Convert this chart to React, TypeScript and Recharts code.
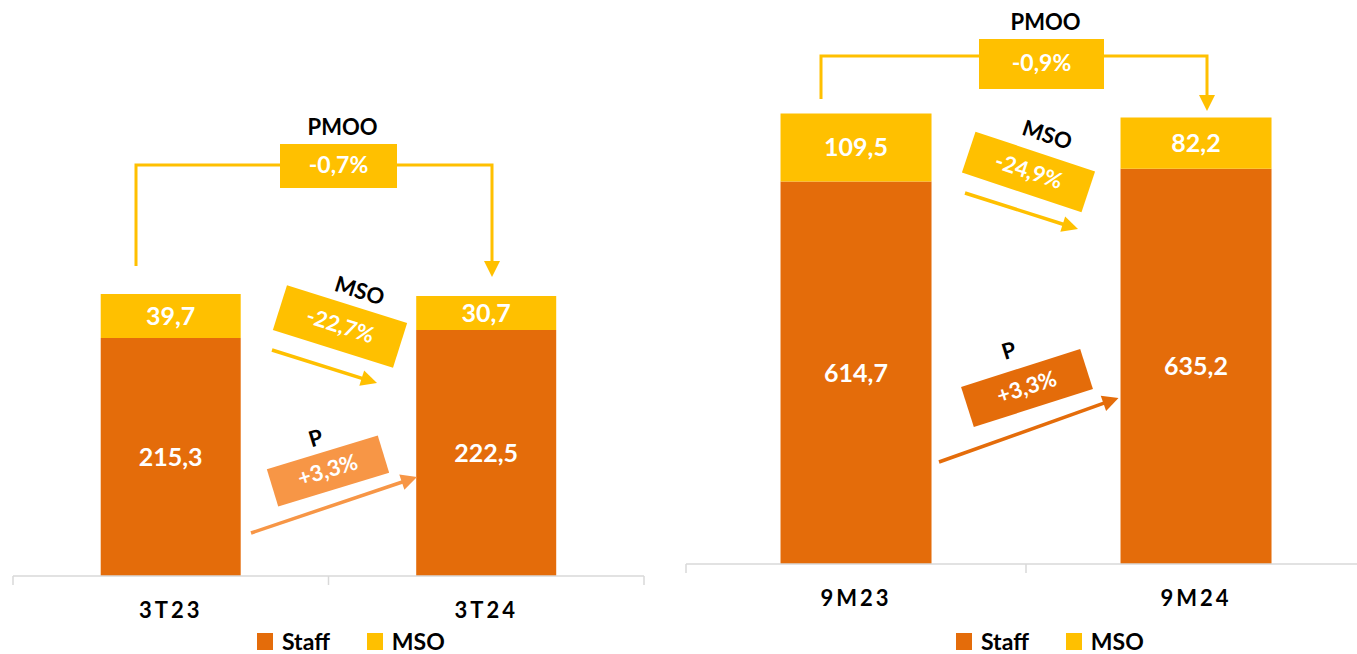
import { BarChart, Bar, XAxis, YAxis, LabelList, Legend } from "recharts"

const FONT = "Lato, 'Open Sans', sans-serif"
const STAFF_COLOR = "#E46C0A"
const MSO_COLOR = "#FFC000"
const P_LIGHT = "#F79646"
const AXIS_GREY = "#D9D9D9"

// quarter (3T) data
const quarterLabels = ["3T23", "3T24"]
const quarterStaff = [215.3, 222.5]
const quarterMso = [39.7, 30.7]
const quarterChanges = { pmoo: "-0,7%", mso: "-22,7%", p: "+3,3%" }

// year to date (9M) data
const ytdLabels = ["9M23", "9M24"]
const ytdStaff = [614.7, 635.2]
const ytdMso = [109.5, 82.2]
const ytdChanges = { pmoo: "-0,9%", mso: "-24,9%", p: "+3,3%" }

const legendItems = [
  { name: "Staff", color: STAFF_COLOR },
  { name: "MSO", color: MSO_COLOR },
]

const fmt = (v: any) => Number(v).toFixed(1).replace(".", ",")

interface BoxAnno {
  cx: number
  cy: number
  w: number
  h: number
  angle: number
  fill: string
  title: string
  tx: number
  ty: number
  value: string
}

interface Layout {
  left: number
  width: number
  margin: { top: number; right: number; left: number; bottom: number }
  xAxisHeight: number
  yMax: number
  legendLeft: number
  axisY: number
  ticksX: number[]
  pmoo: { leftX: number; rightX: number; lineY: number; leftBottom: number; tip: number; box: { x: number; y: number; w: number; h: number }; titleY: number }
  msoBox: BoxAnno
  msoArrow: [number, number, number, number]
  pBox: BoxAnno
  pArrow: [number, number, number, number]
  pArrowColor: string
}

function Arrow({ x1, y1, x2, y2, color }: { x1: number; y1: number; x2: number; y2: number; color: string }) {
  const dx = x2 - x1
  const dy = y2 - y1
  const len = Math.sqrt(dx * dx + dy * dy)
  const ux = dx / len
  const uy = dy / len
  const hl = 16
  const hw = 8
  const bx = x2 - ux * hl
  const by = y2 - uy * hl
  const pts = `${x2},${y2} ${bx - uy * hw},${by + ux * hw} ${bx + uy * hw},${by - ux * hw}`
  return (
    <g>
      <line x1={x1} y1={y1} x2={bx + ux * 2} y2={by + uy * 2} stroke={color} strokeWidth={3.5} />
      <polygon points={pts} fill={color} />
    </g>
  )
}

function RotBox({ b }: { b: BoxAnno }) {
  return (
    <g transform={`translate(${b.cx},${b.cy}) rotate(${b.angle})`}>
      <rect x={-b.w / 2} y={-b.h / 2} width={b.w} height={b.h} fill={b.fill} />
      <text x={0} y={1} textAnchor="middle" dominantBaseline="middle" fill="#fff" fontSize={22} fontWeight={700} fontFamily={FONT}>
        {b.value}
      </text>
      <text x={b.tx} y={b.ty} textAnchor="middle" dominantBaseline="middle" fill="#000" fontSize={22} fontWeight={700} fontFamily={FONT}>
        {b.title}
      </text>
    </g>
  )
}

function Overlay({ l, pmooText }: { l: Layout; pmooText: string }) {
  const p = l.pmoo
  const c = MSO_COLOR
  return (
    <svg width={l.width} height={654} style={{ position: "absolute", left: 0, top: 0, pointerEvents: "none" }}>
      {l.ticksX.map((x) => (
        <line key={x} x1={x} y1={l.axisY} x2={x} y2={l.axisY + 9} stroke={AXIS_GREY} strokeWidth={1.5} />
      ))}
      <polyline
        points={`${p.leftX},${p.leftBottom} ${p.leftX},${p.lineY} ${p.rightX},${p.lineY} ${p.rightX},${p.tip - 14}`}
        fill="none"
        stroke={c}
        strokeWidth={3}
      />
      <polygon points={`${p.rightX},${p.tip} ${p.rightX - 8},${p.tip - 16} ${p.rightX + 8},${p.tip - 16}`} fill={c} />
      <rect x={p.box.x} y={p.box.y} width={p.box.w} height={p.box.h} fill={c} />
      <text x={p.box.x + p.box.w / 2} y={p.box.y + p.box.h / 2 + 1} textAnchor="middle" dominantBaseline="middle" fill="#fff" fontSize={23} fontWeight={700} fontFamily={FONT}>
        {pmooText}
      </text>
      <text x={p.box.x + p.box.w / 2 + 4} y={p.titleY} textAnchor="middle" dominantBaseline="middle" fill="#000" fontSize={22} fontWeight={700} fontFamily={FONT}>
        PMOO
      </text>
      <RotBox b={l.msoBox} />
      <Arrow x1={l.msoArrow[0]} y1={l.msoArrow[1]} x2={l.msoArrow[2]} y2={l.msoArrow[3]} color={MSO_COLOR} />
      <RotBox b={l.pBox} />
      <Arrow x1={l.pArrow[0]} y1={l.pArrow[1]} x2={l.pArrow[2]} y2={l.pArrow[3]} color={l.pArrowColor} />
    </svg>
  )
}

function LegendContent() {
  return (
    <div style={{ display: "flex", alignItems: "center", height: 42, paddingTop: 16, boxSizing: "border-box", fontFamily: FONT, fontWeight: 700, fontSize: 23, color: "#000" }}>
      {legendItems.map((it, i) => (
        <div key={it.name} style={{ display: "flex", alignItems: "center", marginRight: i === 0 ? 37 : 0 }}>
          <span style={{ display: "inline-block", width: 16, height: 17, background: it.color, marginRight: 9 }} />
          <span style={{ lineHeight: "22px" }}>{it.name}</span>
        </div>
      ))}
    </div>
  )
}

function CategoryTick(props: any) {
  const { x, y, payload } = props
  return (
    <text x={x} y={y + 36} textAnchor="middle" dominantBaseline="middle" fill="#000" fontSize={22} fontWeight={700} fontFamily={FONT} letterSpacing={3}>
      {payload.value}
    </text>
  )
}

function StackPanel({ labels, staff, mso, changes, l }: { labels: string[]; staff: number[]; mso: number[]; changes: { pmoo: string; mso: string; p: string }; l: Layout }) {
  const data = labels.map((name, i) => ({ name, staff: staff[i], mso: mso[i] }))
  return (
    <div style={{ position: "absolute", left: l.left, top: 0, width: l.width, height: 654 }}>
      <BarChart width={l.width} height={654} data={data} margin={l.margin} barCategoryGap="27.8%">
        <YAxis hide domain={[0, l.yMax]} />
        <XAxis
          dataKey="name"
          height={l.xAxisHeight}
          axisLine={{ stroke: AXIS_GREY, strokeWidth: 1.5 }}
          tickLine={false}
          tickSize={0}
          tickMargin={0}
          tick={<CategoryTick />}
          interval={0}
        />
        <Legend verticalAlign="bottom" content={<LegendContent />} wrapperStyle={{ left: l.legendLeft, height: 42, width: "auto" }} />
        <Bar dataKey="staff" name="Staff" stackId="a" fill={STAFF_COLOR} isAnimationActive={false}>
          <LabelList dataKey="staff" position="center" formatter={fmt} fill="#fff" fontSize={25} fontWeight={700} fontFamily={FONT} />
        </Bar>
        <Bar dataKey="mso" name="MSO" stackId="a" fill={MSO_COLOR} isAnimationActive={false}>
          <LabelList dataKey="mso" position="center" formatter={fmt} fill="#fff" fontSize={25} fontWeight={700} fontFamily={FONT} />
        </Bar>
      </BarChart>
      <Overlay l={l} pmooText={changes.pmoo} />
    </div>
  )
}

const quarterLayout: Layout = {
  left: 0,
  width: 680,
  margin: { top: 23, right: 36, left: 13, bottom: 0 },
  xAxisHeight: 36,
  yMax: 500,
  legendLeft: 257,
  axisY: 576,
  ticksX: [13, 328.5, 644],
  pmoo: { leftX: 136, rightX: 492, lineY: 165, leftBottom: 266, tip: 277, box: { x: 280, y: 144, w: 117, h: 44 }, titleY: 129 },
  msoBox: { cx: 340, cy: 326.5, w: 126, h: 47, angle: 17.5, fill: MSO_COLOR, title: "MSO", tx: 8, ty: -38, value: quarterChanges.mso },
  msoArrow: [272, 350, 377, 383],
  pBox: { cx: 328, cy: 471, w: 116, h: 39, angle: -17, fill: P_LIGHT, title: "P", tx: -2, ty: -33, value: quarterChanges.p },
  pArrow: [251, 533, 417, 477],
  pArrowColor: P_LIGHT,
}

const ytdLayout: Layout = {
  left: 680,
  width: 690,
  margin: { top: 4, right: 4, left: 6, bottom: 0 },
  xAxisHeight: 48,
  yMax: 900,
  legendLeft: 276,
  axisY: 564,
  ticksX: [6, 346, 686],
  pmoo: { leftX: 141, rightX: 527, lineY: 56, leftBottom: 99, tip: 111, box: { x: 299, y: 39, w: 125, h: 50 }, titleY: 24 },
  msoBox: { cx: 348.5, cy: 172, w: 126, h: 43, angle: 18.4, fill: MSO_COLOR, title: "MSO", tx: 6, ty: -39, value: ytdChanges.mso },
  msoArrow: [285, 193, 398, 229],
  pBox: { cx: 347, cy: 388, w: 125, h: 42, angle: -17.7, fill: STAFF_COLOR, title: "P", tx: -6, ty: -39, value: ytdChanges.p },
  pArrow: [259, 462, 438.5, 398],
  pArrowColor: STAFF_COLOR,
}

export default function App() {
  return (
    <div style={{ position: "absolute", left: 0, top: 0, width: 1357, height: 654, overflow: "hidden", background: "#fff" }}>
      <StackPanel labels={quarterLabels} staff={quarterStaff} mso={quarterMso} changes={quarterChanges} l={quarterLayout} />
      <StackPanel labels={ytdLabels} staff={ytdStaff} mso={ytdMso} changes={ytdChanges} l={ytdLayout} />
    </div>
  )
}
